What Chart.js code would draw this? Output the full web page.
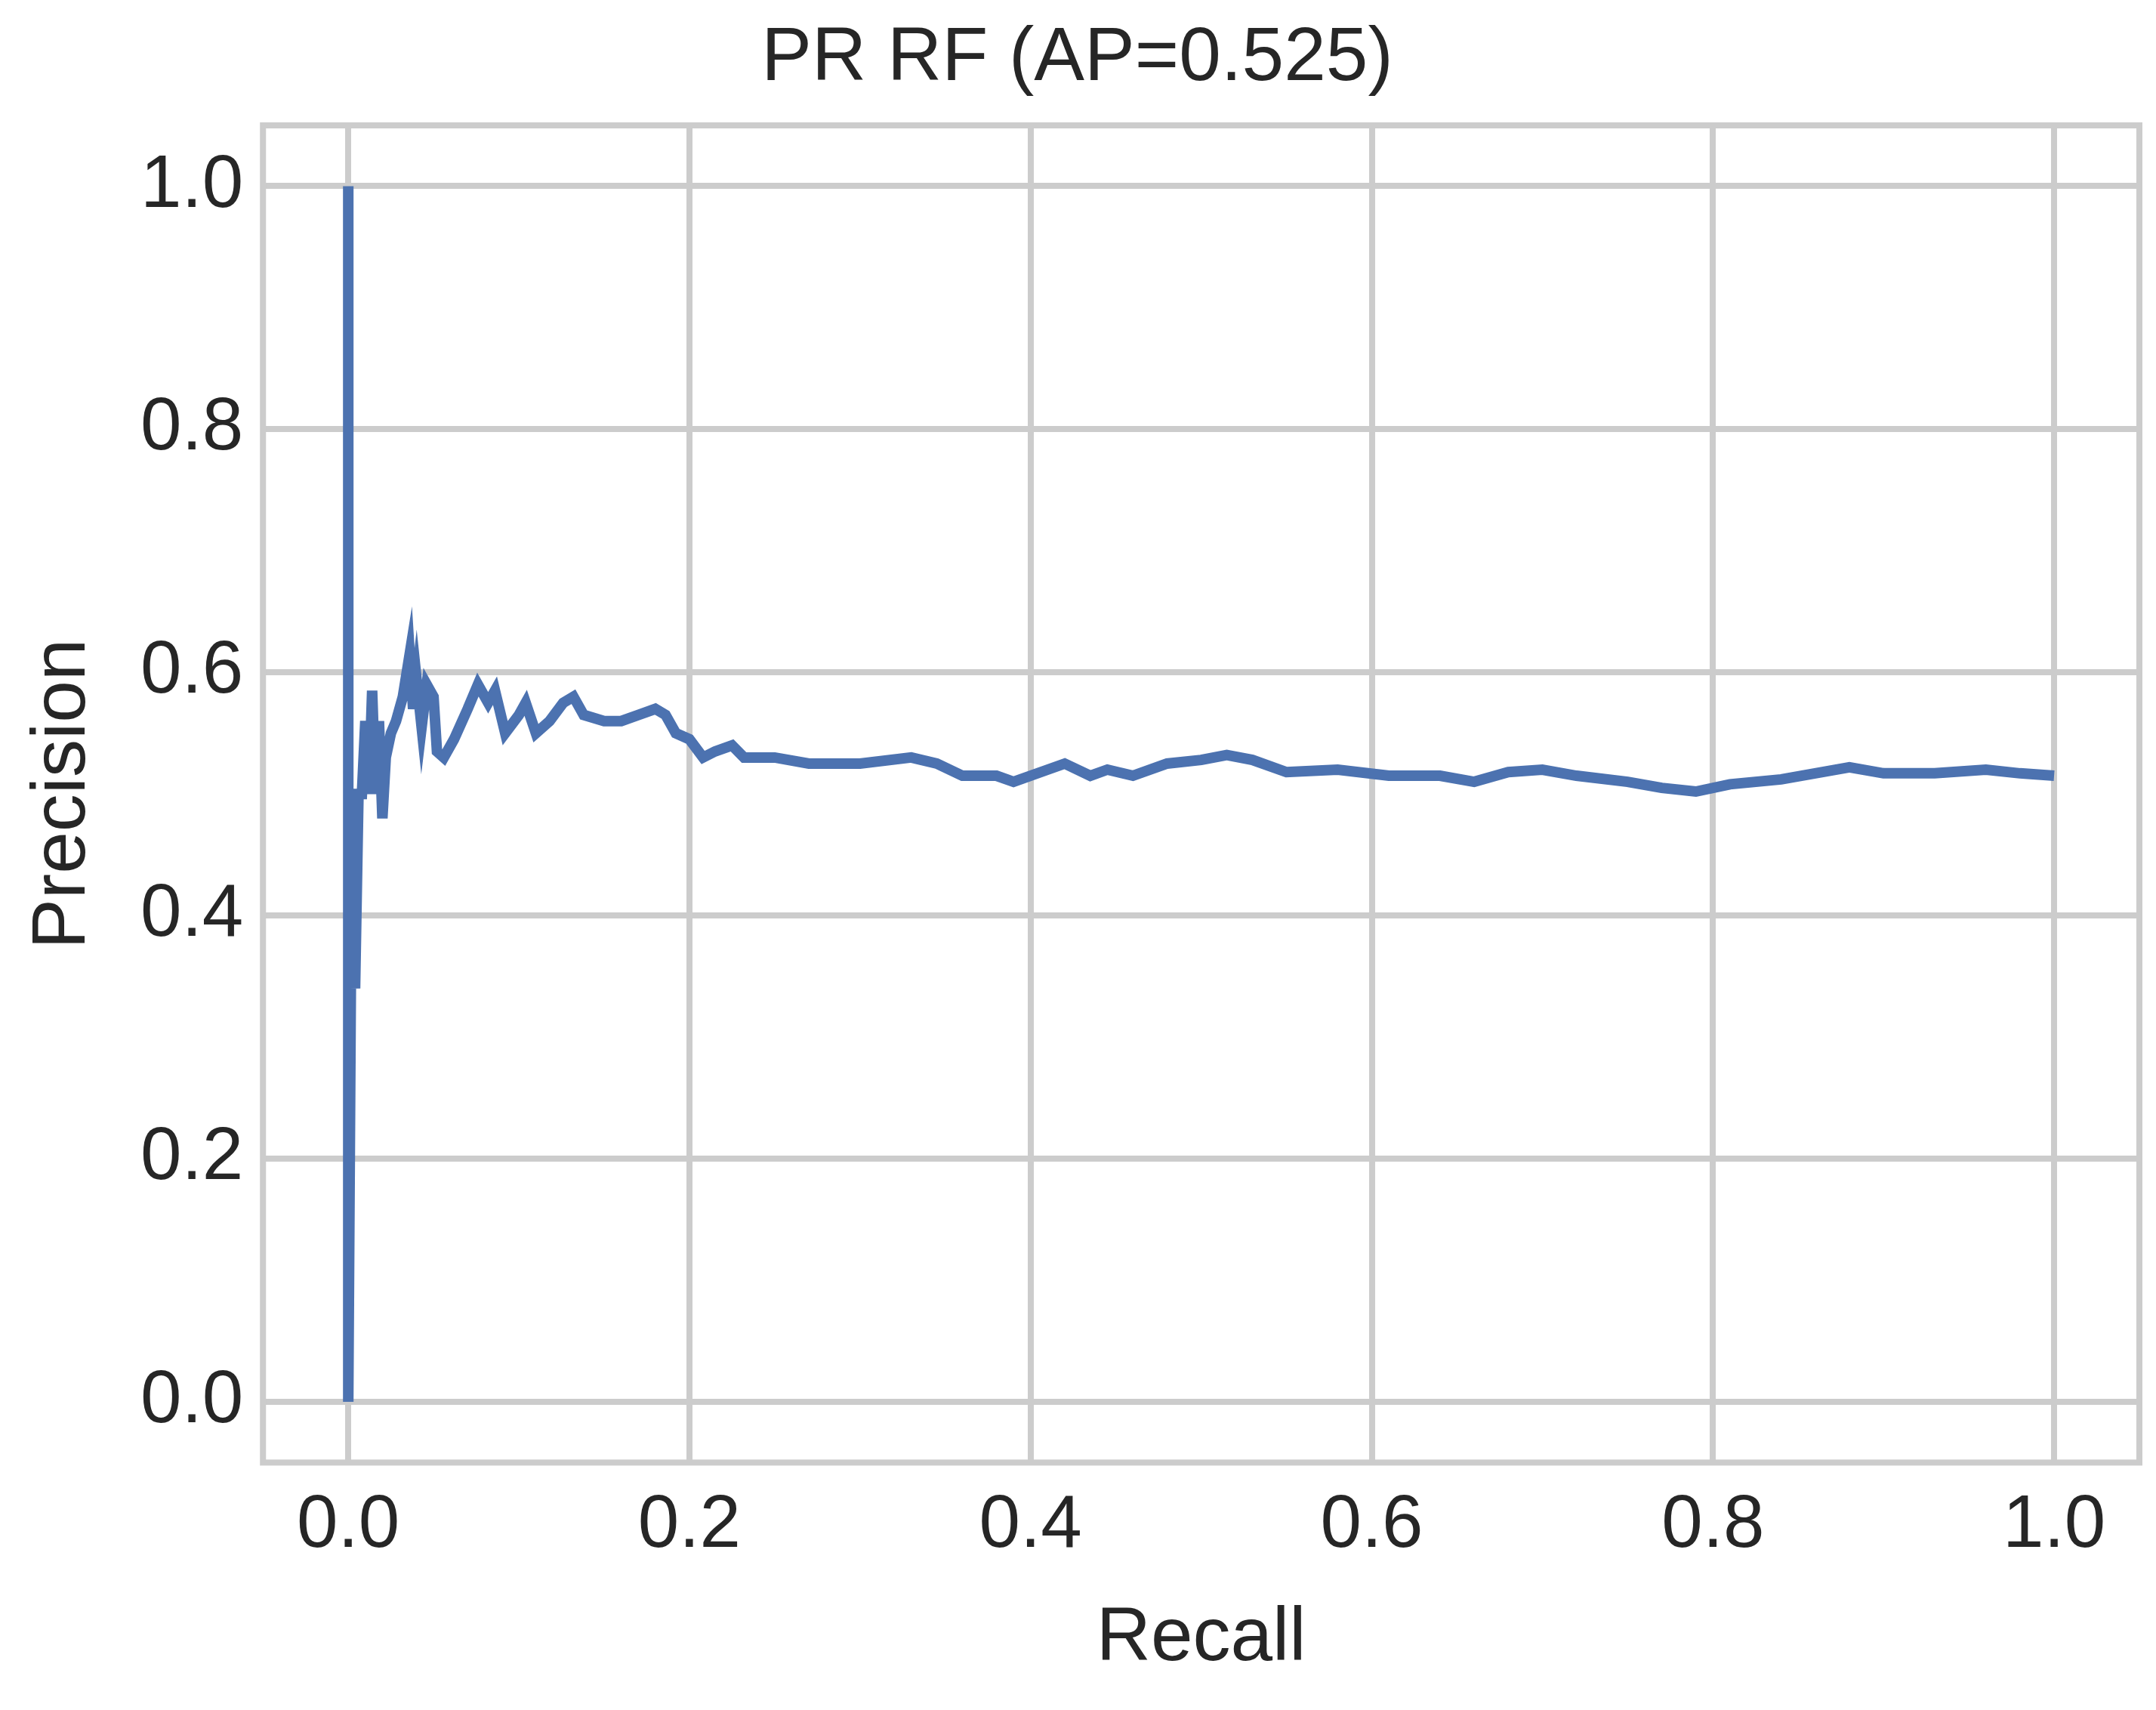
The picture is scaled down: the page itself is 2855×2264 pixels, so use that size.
<!DOCTYPE html>
<html>
<head>
<meta charset="utf-8">
<script src="https://cdn.jsdelivr.net/npm/chart.js@4/dist/chart.umd.min.js"></script>
<style>
  html, body { margin: 0; padding: 0; background: #fff; }
  #wrap { width: 2855px; height: 2264px; }
</style>
</head>
<body>
<div id="wrap"><canvas id="pr" width="2855" height="2264"></canvas></div>
<script>
// ---- DATA ----
const recall = [
  0, 0, 0.002, 0.004, 0.006, 0.008, 0.010, 0.012, 0.014, 0.016, 0.018, 0.020, 0.022, 0.025,
  0.028, 0.032, 0.036, 0.038, 0.040, 0.043, 0.046, 0.050, 0.052, 0.056, 0.062, 0.070, 0.076,
  0.082, 0.086, 0.092, 0.100, 0.104, 0.110, 0.118, 0.126, 0.132, 0.138, 0.150, 0.160, 0.170,
  0.180, 0.186, 0.192, 0.200, 0.208, 0.215, 0.225, 0.232, 0.250, 0.270, 0.300, 0.330, 0.345,
  0.360, 0.380, 0.390, 0.410, 0.420, 0.435, 0.445, 0.460, 0.480, 0.500, 0.515, 0.530, 0.550,
  0.580, 0.610, 0.640, 0.660, 0.680, 0.700, 0.720, 0.750, 0.770, 0.790, 0.810, 0.840, 0.880,
  0.900, 0.930, 0.960, 0.980, 1.0
];
const precision = [
  1.0, 0.0, 0.45, 0.34, 0.50, 0.50, 0.56, 0.50, 0.585, 0.50, 0.56, 0.48, 0.53, 0.55,
  0.56, 0.58, 0.615, 0.57, 0.595, 0.555, 0.59, 0.58, 0.535, 0.53, 0.545, 0.57, 0.59,
  0.575, 0.585, 0.55, 0.565, 0.575, 0.55, 0.56, 0.575, 0.58, 0.565, 0.56, 0.56, 0.565,
  0.57, 0.565, 0.55, 0.545, 0.53, 0.535, 0.54, 0.53, 0.53, 0.525, 0.525, 0.53, 0.525,
  0.515, 0.515, 0.51, 0.52, 0.525, 0.515, 0.52, 0.515, 0.525, 0.528, 0.532, 0.528, 0.518,
  0.52, 0.515, 0.515, 0.51, 0.518, 0.52, 0.515, 0.51, 0.505, 0.502, 0.508, 0.512, 0.522,
  0.517, 0.517, 0.52, 0.517, 0.515
];
const tickValues = [0, 0.2, 0.4, 0.6, 0.8, 1.0];

const points = recall.map((r, i) => ({ x: r, y: precision[i] }));

// frame around the plot area
const frame = {
  id: 'frame',
  afterDraw(chart) {
    const a = chart.chartArea, c = chart.ctx;
    c.save();
    c.strokeStyle = '#cccccc';
    c.lineWidth = 8;
    c.strokeRect(a.left, a.top, a.right - a.left, a.bottom - a.top);
    c.restore();
  }
};

const fontFam = 'Arial, "Liberation Sans", sans-serif';
const tickOpts = {
  color: '#262626',
  font: { family: fontFam, size: 98 },
  padding: 26,
  callback: v => v.toFixed(1),
};
const gridOpts = { color: '#cccccc', lineWidth: 8, drawTicks: false };

new Chart(document.getElementById('pr'), {
  type: 'scatter',
  data: {
    datasets: [{
      data: points,
      showLine: true,
      borderColor: '#4c72b0',
      borderWidth: 14,
      pointRadius: 0,
      tension: 0,
    }],
  },
  options: {
    responsive: false,
    animation: false,
    devicePixelRatio: 1,
    layout: { padding: { left: 20, right: 22, top: 0, bottom: 30 } },
    plugins: {
      legend: { display: false },
      tooltip: { enabled: false },
      title: {
        display: true,
        text: 'PR RF (AP=0.525)',
        color: '#262626',
        font: { family: fontFam, size: 100, weight: 'normal' },
        padding: { top: 18, bottom: 28 },
      },
    },
    scales: {
      x: {
        type: 'linear',
        min: -0.05, max: 1.05,
        afterBuildTicks: s => { s.ticks = tickValues.map(v => ({ value: v })); },
        grid: gridOpts,
        border: { display: false },
        ticks: tickOpts,
        title: { display: true, text: 'Recall', color: '#262626', font: { family: fontFam, size: 100 }, padding: { top: 4 } },
      },
      y: {
        type: 'linear',
        min: -0.05, max: 1.05,
        afterBuildTicks: s => { s.ticks = tickValues.map(v => ({ value: v })); },
        grid: gridOpts,
        border: { display: false },
        ticks: tickOpts,
        title: { display: true, text: 'Precision', color: '#262626', font: { family: fontFam, size: 100 }, padding: { bottom: 16 } },
      },
    },
  },
  plugins: [frame],
});
</script>
</body>
</html>
